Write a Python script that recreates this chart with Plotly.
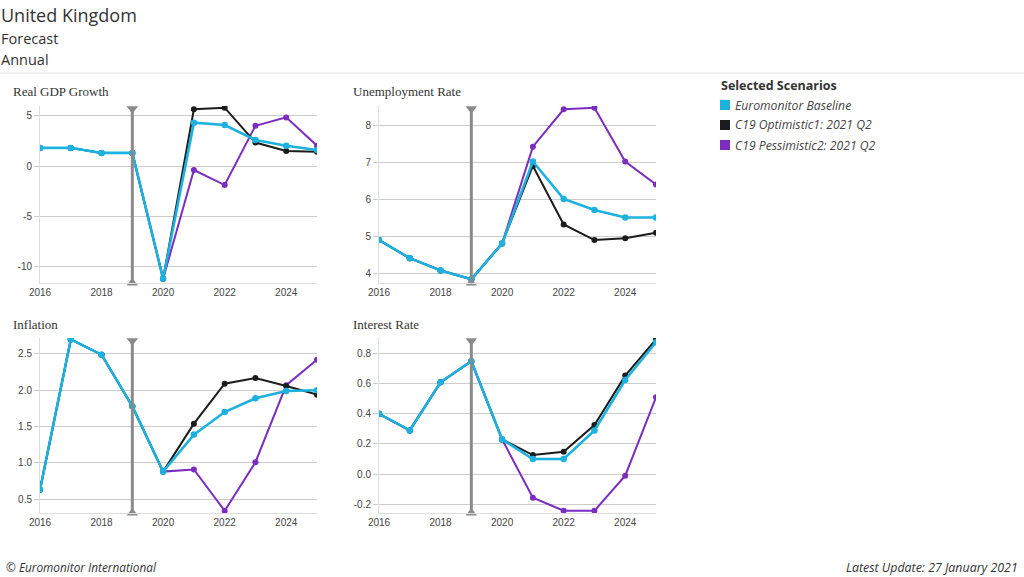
import plotly.graph_objects as go

# ---------------- data ----------------
years = list(range(2016, 2026))
forecast_start = 2019
scenario_names = ["Euromonitor Baseline", "C19 Optimistic1: 2021 Q2", "C19 Pessimistic2: 2021 Q2"]
scenario_colors = ["#1cb1df", "#1c1c1c", "#7a2dbf"]

gdp_baseline = [1.8, 1.8, 1.3, 1.3, -11.2, 4.3, 4.07, 2.58, 2.02, 1.59]
gdp_optimistic = [1.8, 1.8, 1.3, 1.3, -11.2, 5.63, 5.79, 2.33, 1.49, 1.42]
gdp_pessimistic = [1.8, 1.8, 1.3, 1.3, -11.2, -0.4, -1.89, 4.0, 4.83, 2.02]

unemp_baseline = [4.9, 4.41, 4.08, 3.84, 4.81, 7.02, 6.01, 5.71, 5.51, 5.51]
unemp_optimistic = [4.9, 4.41, 4.08, 3.84, 4.81, 6.9, 5.32, 4.9, 4.95, 5.1]
unemp_pessimistic = [4.9, 4.41, 4.08, 3.84, 4.81, 7.42, 8.43, 8.47, 7.02, 6.4]

infl_baseline = [0.63, 2.7, 2.49, 1.78, 0.88, 1.39, 1.7, 1.89, 1.99, 2.0]
infl_optimistic = [0.63, 2.7, 2.49, 1.78, 0.88, 1.54, 2.09, 2.17, 2.06, 1.94]
infl_pessimistic = [0.63, 2.7, 2.49, 1.78, 0.88, 0.91, 0.34, 1.01, 2.07, 2.42]

rate_baseline = [0.40, 0.29, 0.61, 0.75, 0.23, 0.10, 0.10, 0.29, 0.625, 0.876]
rate_optimistic = [0.40, 0.29, 0.61, 0.75, 0.23, 0.126, 0.148, 0.326, 0.654, 0.895]
rate_pessimistic = [0.40, 0.29, 0.61, 0.75, 0.23, -0.157, -0.244, -0.244, -0.011, 0.51]

panel_titles = ["Real GDP Growth", "Unemployment Rate", "Inflation", "Interest Rate"]
panel_series = [
    [gdp_baseline, gdp_optimistic, gdp_pessimistic],
    [unemp_baseline, unemp_optimistic, unemp_pessimistic],
    [infl_baseline, infl_optimistic, infl_pessimistic],
    [rate_baseline, rate_optimistic, rate_pessimistic],
]
panel_ranges = [[-11.62, 5.96], [3.74, 8.52], [0.31, 2.72], [-0.259, 0.904]]
panel_ytickvals = [[-10, -5, 0, 5], [4, 5, 6, 7, 8], [0.5, 1.0, 1.5, 2.0, 2.5],
                   [-0.2, 0.0, 0.2, 0.4, 0.6, 0.8]]
panel_ytickdecimals = [0, 0, 1, 1]
x_tickvals = [2016, 2018, 2020, 2022, 2024]

header_lines = ["United Kingdom", "Forecast", "Annual"]
legend_title = "Selected Scenarios"
footer_left = "© Euromonitor International"
footer_right = "Latest Update: 27 January 2021"

# ---------------- layout geometry ----------------
W, H = 1024, 577
def px_x(p):
    return p / W
def px_y(p):
    return 1 - p / H

x_domains = [[px_x(40), px_x(317)], [px_x(379), px_x(656)]]
y_domains = [[px_y(283), px_y(106)], [px_y(513), px_y(338)]]
title_pos = [(11, 92), (351, 92), (11, 324), (351, 324)]
line_widths = [2.6, 2, 2]
marker_sizes = [6.5, 6, 6]

UI_FONT = "Open Sans, Lato, sans-serif"

fig = go.Figure()
layout = dict(
    template="none",
    width=W, height=H, autosize=False,
    margin=dict(l=0, r=0, t=0, b=0, pad=0, autoexpand=False),
    paper_bgcolor="white", plot_bgcolor="white",
    showlegend=False,
    font=dict(family="Liberation Sans, Arial, sans-serif", color="#444"),
)

annotations = []
shapes = []

order = [2, 1, 0]  # draw pessimistic, optimistic, baseline on top
for i in range(4):
    row, col = divmod(i, 2)
    xa = "x" if i == 0 else f"x{i+1}"
    ya = "y" if i == 0 else f"y{i+1}"
    for s in order:
        fig.add_trace(go.Scatter(
            x=years, y=panel_series[i][s], mode="lines+markers",
            line=dict(color=scenario_colors[s], width=line_widths[s]),
            marker=dict(color=scenario_colors[s], size=marker_sizes[s], line=dict(width=0)),
            name=scenario_names[s], xaxis=xa, yaxis=ya, cliponaxis=True,
        ))
    # forecast divider line with triangle ends
    lo, hi = panel_ranges[i]
    span = hi - lo
    fig.add_trace(go.Scatter(
        x=[forecast_start, forecast_start], y=[hi - span * 0.015, lo],
        mode="lines+markers",
        line=dict(color="#8a8a8a", width=3),
        marker=dict(color="#8a8a8a", size=10, symbol=["triangle-down", "triangle-up"],
                    line=dict(width=0)),
        xaxis=xa, yaxis=ya, cliponaxis=False, hoverinfo="skip",
    ))
    xkey = "xaxis" if i == 0 else f"xaxis{i+1}"
    ykey = "yaxis" if i == 0 else f"yaxis{i+1}"
    layout[xkey] = dict(
        domain=x_domains[col], anchor=ya, range=[years[0], years[-1]],
        tickvals=x_tickvals, tickformat="d", showgrid=False, zeroline=False,
        showline=True, linecolor="#dddddd", linewidth=1, ticks="",
        tickfont=dict(size=10, color="#444"), automargin=False,
    )
    dec = panel_ytickdecimals[i]
    layout[ykey] = dict(
        domain=y_domains[row], anchor=xa, range=panel_ranges[i],
        tickvals=panel_ytickvals[i],
        ticktext=[f"{v:.{dec}f}".replace("−", "-") for v in panel_ytickvals[i]],
        showgrid=True, gridcolor="#cccccc", gridwidth=1, zeroline=False,
        showline=True, linecolor="#dddddd", linewidth=1,
        ticks="outside", ticklen=5, tickcolor="#cccccc", tickwidth=1,
        tickfont=dict(size=10, color="#444"), automargin=False,
    )
    tx, ty = title_pos[i]
    annotations.append(dict(
        text=panel_titles[i], xref="paper", yref="paper", x=px_x(tx), y=px_y(ty),
        xanchor="left", yanchor="middle", showarrow=False,
        font=dict(family="Liberation Serif, Times New Roman, serif", size=13, color="#333"),
    ))

# header
header_y = [15, 38, 59]
header_size = [18, 14.5, 14.5]
for t, yy, sz in zip(header_lines, header_y, header_size):
    annotations.append(dict(
        text=t, xref="paper", yref="paper", x=-0.001, y=px_y(yy), xanchor="left",
        yanchor="middle", showarrow=False,
        font=dict(family=UI_FONT, size=sz, color="#333"),
    ))
shapes.append(dict(type="line", xref="paper", yref="paper", x0=0, x1=1,
                   y0=px_y(73), y1=px_y(73), line=dict(color="#e6e6e6", width=1)))

# legend
annotations.append(dict(
    text=f"<b>{legend_title}</b>", xref="paper", yref="paper", x=px_x(719), y=px_y(86),
    xanchor="left", yanchor="middle", showarrow=False,
    font=dict(family=UI_FONT, size=12.5, color="#333"),
))
for k, (nm, c) in enumerate(zip(scenario_names, scenario_colors)):
    yy = 105 + 20 * k
    shapes.append(dict(type="rect", xref="paper", yref="paper",
                       x0=px_x(720), x1=px_x(730), y0=px_y(yy + 5), y1=px_y(yy - 5),
                       fillcolor=c, line=dict(width=0)))
    annotations.append(dict(
        text=f"<i>{nm}</i>", xref="paper", yref="paper", x=px_x(733), y=px_y(yy),
        xanchor="left", yanchor="middle", showarrow=False,
        font=dict(family=UI_FONT, size=12.2, color="#444"),
    ))

# footer
annotations.append(dict(
    text=f"<i>{footer_left}</i>", xref="paper", yref="paper", x=px_x(4), y=px_y(567),
    xanchor="left", yanchor="middle", showarrow=False,
    font=dict(family=UI_FONT, size=11.8, color="#333"),
))
annotations.append(dict(
    text=f"<i>{footer_right}</i>", xref="paper", yref="paper", x=px_x(1020), y=px_y(567),
    xanchor="right", yanchor="middle", showarrow=False,
    font=dict(family=UI_FONT, size=12.4, color="#333"),
))

layout["annotations"] = annotations
layout["shapes"] = shapes
fig.update_layout(**layout)
fig.write_html(
    "out.html",
    config={"displayModeBar": False, "responsive": False},
    post_script="document.body.style.margin='0';document.body.style.padding='0';"
                "document.body.style.overflow='hidden';"
                "document.documentElement.style.overflow='hidden';",
)
